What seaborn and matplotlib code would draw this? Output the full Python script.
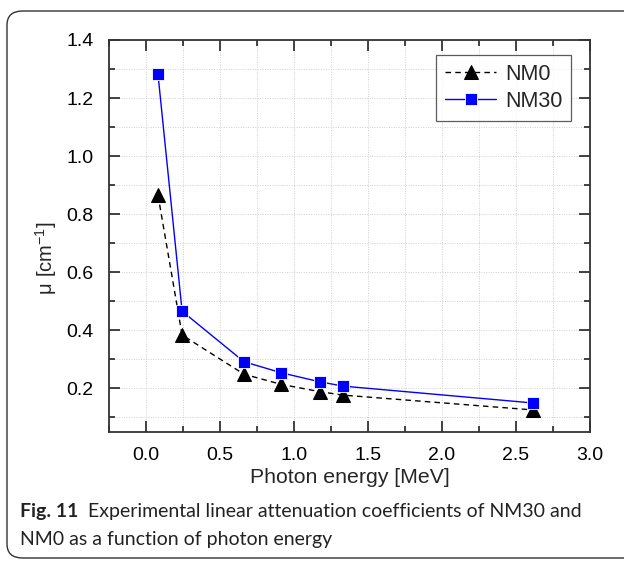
import numpy as np
import pandas as pd
import matplotlib
matplotlib.use("Agg")
import matplotlib.pyplot as plt
import seaborn as sns
from matplotlib.patches import FancyBboxPatch
from matplotlib.ticker import MultipleLocator

# --------------------------
# Data
# --------------------------
energy = [0.081, 0.244, 0.662, 0.914, 1.173, 1.332, 2.614]   # MeV
mu_nm0 = [0.866, 0.384, 0.249, 0.214, 0.189, 0.177, 0.126]
mu_nm30 = [1.282, 0.466, 0.292, 0.254, 0.223, 0.208, 0.150]
series_names = ["NM0", "NM30"]

df = pd.DataFrame({
    "energy": energy * 2,
    "mu": mu_nm0 + mu_nm30,
    "sample": [series_names[0]] * len(energy) + [series_names[1]] * len(energy),
})

sns.set_theme(style="white")
plt.rcParams["font.family"] = ["Liberation Sans", "DejaVu Sans"]

fig = plt.figure(figsize=(6.24, 5.63), dpi=100)
ax = fig.add_axes([109 / 624, 1 - 432 / 563, (590 - 109) / 624, (432 - 40) / 563])

# grid first so markers sit on top
ax.set_xlim(-0.25, 3.0)
ax.set_ylim(0.05, 1.4)
ax.xaxis.set_major_locator(MultipleLocator(0.5))
ax.xaxis.set_minor_locator(MultipleLocator(0.25))
ax.yaxis.set_major_locator(MultipleLocator(0.2))
ax.yaxis.set_minor_locator(MultipleLocator(0.1))
ax.grid(True, which="both", color="#cfcfcf", linestyle=(0, (1, 1.5)), linewidth=0.7)
ax.set_axisbelow(True)

nm0 = df[df["sample"] == "NM0"]
nm30 = df[df["sample"] == "NM30"]
sns.lineplot(data=nm0, x="energy", y="mu", ax=ax, color="black", linestyle=(0, (4, 3)),
             linewidth=1.0, marker="^", markersize=10, markeredgecolor="black",
             label="NM0", sort=False)
sns.lineplot(data=nm30, x="energy", y="mu", ax=ax, color="#0000ff", linestyle="-",
             linewidth=1.0, marker="s", markersize=8, markeredgecolor="white",
             markeredgewidth=0.6, label="NM30", sort=False)

ax.set_xlim(-0.25, 3.0)
ax.set_ylim(0.05, 1.4)

ax.tick_params(which="both", direction="in", width=1.2, top=True, right=True,
               bottom=True, left=True, colors="#222222", labelcolor="black",
               labelsize=14, pad=11)
ax.tick_params(which="major", length=8)
ax.tick_params(which="minor", length=4.5)
for side in ax.spines.values():
    side.set_color("#333333")
    side.set_linewidth(1.3)

ax.set_xlabel("Photon energy [MeV]", fontsize=15.3, labelpad=3)
ax.set_ylabel(r"$\mathregular{\mu\ [cm^{-1}]}$", fontsize=14.5)
ax.yaxis.set_label_coords(-0.103, 0.443)

leg = ax.legend(loc="upper right", bbox_to_anchor=(0.9605, 0.962), borderaxespad=0,
                fontsize=15.5, frameon=True, fancybox=False, handlelength=2.4,
                handletextpad=0.4, borderpad=0.4, labelspacing=0.3)
leg.get_frame().set_edgecolor("#333333")
leg.get_frame().set_linewidth(0.9)

# --------------------------
# Caption and outer border
# --------------------------
border = FancyBboxPatch((7 / 624, 5 / 563), 1.2, 1 - 16 / 563,
                        boxstyle="round,pad=0,rounding_size=0.025",
                        transform=fig.transFigure, fill=False,
                        edgecolor="#333333", linewidth=1.0, clip_on=False)
fig.patches.append(border)

cap_font = ["Lato", "DejaVu Sans"]
t1 = fig.text(20 / 624, 1 - 512 / 563, "Fig. 11", fontsize=14, fontweight="bold",
              family=cap_font, va="center", ha="left", color="#222222")
fig.canvas.draw()
bb = t1.get_window_extent()
x_next = (bb.x1 + 10) / 624
fig.text(x_next, 1 - 512 / 563, "Experimental linear attenuation coefficients of NM30 and",
         fontsize=14, family=cap_font, va="center", ha="left", color="#222222")
fig.text(20 / 624, 1 - 540 / 563, "NM0 as a function of photon energy",
         fontsize=14, family=cap_font, va="center", ha="left", color="#222222")

fig.savefig("out.png", dpi=100)
